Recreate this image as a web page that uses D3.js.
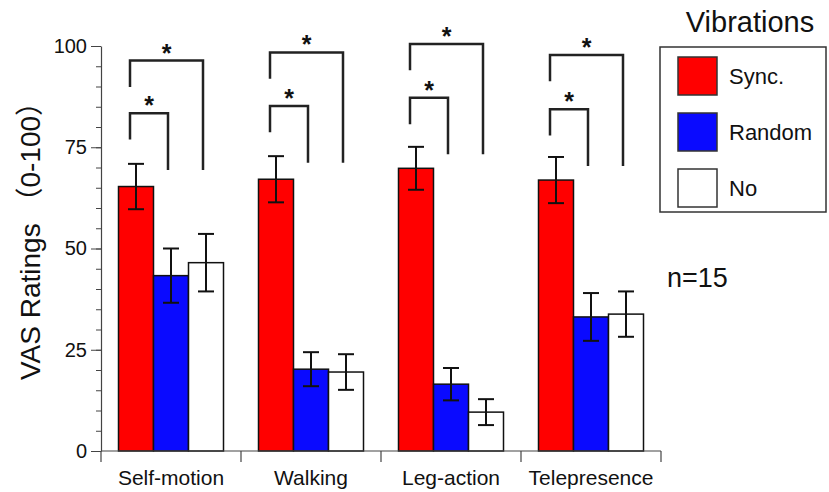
<!DOCTYPE html>
<html>
<head>
<meta charset="utf-8">
<script src="https://cdn.jsdelivr.net/npm/d3@7"></script>
<style>
	body { margin: 0; background: #fff; }
	text { font-family: "Liberation Sans", Arial, "Noto Sans CJK JP", sans-serif; fill: #111; }
</style>
</head>
<body>
<script>
const width = 829;
const height = 492;

// data
const categories = ["Self-motion", "Walking", "Leg-action", "Telepresence"];
const conditions = ["Sync.", "Random", "No"];
const syncMeans = [65.3, 67.1, 69.8, 66.9];
const syncErr = [5.6, 5.7, 5.3, 5.7];
const randomMeans = [43.3, 20.2, 16.5, 33.1];
const randomErr = [6.7, 4.2, 4.0, 5.9];
const noMeans = [46.5, 19.5, 9.6, 33.8];
const noErr = [7.1, 4.4, 3.2, 5.6];
const yTicks = [0, 25, 50, 75, 100];

// significance brackets (in rating units)
const innerBracket = [83.4, 85.2, 87.2, 84.4];
const outerBracket = [96.4, 98.4, 100.5, 97.8];
const bracketLow = [69.4, 71.2, 73.3, 70.4];

const colors = ["#ff0000", "#0a0aff", "#ffffff"];

const means = [syncMeans, randomMeans, noMeans];
const errs = [syncErr, randomErr, noErr];

const svg = d3.select("body")
	.append("svg")
	.attr("width", width)
	.attr("height", height);

const y = d3.scaleLinear()
	.domain([0, 100])
	.range([451, 46]);

const x = d3.scaleBand()
	.domain(categories)
	.range([101, 661]);

const xSub = d3.scaleBand()
	.domain(conditions)
	.range([17.5, x.bandwidth() - 17.5]);

// bars
const bars = [];
categories.forEach((c, i) => {
	conditions.forEach((k, j) => {
		bars.push({ cat: c, cond: k, value: means[j][i], err: errs[j][i], color: colors[j] });
	});
});

svg.selectAll(".bar")
	.data(bars)
	.join("rect")
	.attr("class", "bar")
	.attr("x", d => x(d.cat) + xSub(d.cond))
	.attr("y", d => y(d.value))
	.attr("width", xSub.bandwidth())
	.attr("height", d => y(0) - y(d.value))
	.attr("fill", d => d.color)
	.attr("stroke", "#111")
	.attr("stroke-width", 1.5);

// error bars
const errG = svg.append("g")
	.attr("stroke", "#111")
	.attr("stroke-width", 2);

bars.forEach(d => {
	const cx = x(d.cat) + xSub(d.cond) + xSub.bandwidth() / 2;
	errG.append("line")
		.attr("x1", cx).attr("x2", cx)
		.attr("y1", y(d.value + d.err)).attr("y2", y(d.value - d.err));
	[d.value + d.err, d.value - d.err].forEach(v => {
		errG.append("line")
			.attr("x1", cx - 8).attr("x2", cx + 8)
			.attr("y1", y(v)).attr("y2", y(v));
	});
});

// brackets with stars
const brG = svg.append("g");

categories.forEach((c, i) => {
	const xs = conditions.map(k => x(c) + xSub(k) + xSub.bandwidth() / 2);
	const left = xs[0] - 6;
	const levels = [
		{ top: innerBracket[i], right: xs[1] - 3 },
		{ top: outerBracket[i], right: xs[2] - 3 }
	];
	levels.forEach(l => {
		brG.append("path")
			.attr("d", `M${left},${y(l.top - 6.5)}V${y(l.top)}H${l.right}V${y(bracketLow[i])}`)
			.attr("fill", "none")
			.attr("stroke", "#222")
			.attr("stroke-width", 2.5);
		brG.append("text")
			.attr("x", (left + l.right) / 2)
			.attr("y", y(l.top) + 1)
			.attr("text-anchor", "middle")
			.style("font-size", "25px")
			.style("font-weight", "bold")
			.text("*");
	});
});

// y axis
svg.append("g")
	.attr("transform", "translate(101,0)")
	.call(d3.axisLeft(y).tickValues(d3.range(0, 101, 5)).tickSize(5).tickFormat(""))
	.call(g => g.select(".domain").remove())
	.selectAll("line").attr("stroke", "#444");

const yAxis = svg.append("g")
	.attr("transform", "translate(101,0)")
	.call(d3.axisLeft(y).tickValues(yTicks).tickSize(10).tickSizeOuter(0).tickPadding(4));

yAxis.select(".domain").attr("stroke", "#444").attr("stroke-width", 1.2);
yAxis.selectAll(".tick line").attr("stroke", "#444");
yAxis.selectAll("text")
	.style("font-size", "20px")
	.style("font-family", "Liberation Sans, Arial, sans-serif")
	.attr("fill", "#111");

svg.append("text")
	.attr("transform", "translate(40,234) rotate(-90)")
	.attr("text-anchor", "middle")
	.style("font-size", "28px")
	.text("VAS Ratings （0-100）");

// x axis
const xAxis = svg.append("g")
	.attr("stroke", "#444")
	.attr("stroke-width", 1.2);

xAxis.append("line")
	.attr("x1", x.range()[0]).attr("x2", x.range()[1])
	.attr("y1", y(0)).attr("y2", y(0));

categories.concat([null]).forEach(c => {
	const bx = c ? x(c) : x.range()[1];
	xAxis.append("line")
		.attr("x1", bx).attr("x2", bx)
		.attr("y1", y(0)).attr("y2", y(0) + 11);
});

svg.selectAll(".xlabel")
	.data(categories)
	.join("text")
	.attr("class", "xlabel")
	.attr("x", d => x(d) + x.bandwidth() / 2)
	.attr("y", 485)
	.attr("text-anchor", "middle")
	.style("font-size", "21px")
	.text(d => d);

// legend
svg.append("text")
	.attr("x", 750)
	.attr("y", 32)
	.attr("text-anchor", "middle")
	.style("font-size", "29px")
	.text("Vibrations");

svg.append("rect")
	.attr("x", 660)
	.attr("y", 47)
	.attr("width", 166)
	.attr("height", 165)
	.attr("fill", "none")
	.attr("stroke", "#333")
	.attr("stroke-width", 1.5);

const legend = svg.selectAll(".legend")
	.data(conditions)
	.join("g")
	.attr("class", "legend")
	.attr("transform", (d, i) => `translate(678, ${57 + i * 56})`);

legend.append("rect")
	.attr("width", 39)
	.attr("height", 38)
	.attr("fill", (d, i) => colors[i])
	.attr("stroke", "#333")
	.attr("stroke-width", 1.5);

legend.append("text")
	.attr("x", 51)
	.attr("y", 19)
	.attr("dy", "0.35em")
	.style("font-size", "22px")
	.text(d => d);

svg.append("text")
	.attr("x", 667)
	.attr("y", 287)
	.style("font-size", "27px")
	.text("n=15");
</script>
</body>
</html>
